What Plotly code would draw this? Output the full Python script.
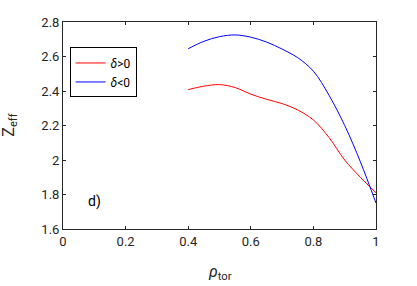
import plotly.graph_objects as go

rho = [0.40, 0.45, 0.50, 0.55, 0.60, 0.65, 0.70, 0.75, 0.80, 0.85, 0.90, 0.95, 1.00]
zeff_pos = [2.408, 2.428, 2.437, 2.420, 2.382, 2.352, 2.327, 2.290, 2.232, 2.130, 2.000, 1.900, 1.810]
zeff_neg = [2.645, 2.688, 2.715, 2.725, 2.712, 2.684, 2.643, 2.593, 2.515, 2.375, 2.200, 1.990, 1.750]
x_ticks = [0, 0.2, 0.4, 0.6, 0.8, 1]
x_ticklabels = ["0", "0.2", "0.4", "0.6", "0.8", "1"]
y_ticks = [1.6, 1.8, 2.0, 2.2, 2.4, 2.6, 2.8]
y_ticklabels = ["1.6", "1.8", "2", "2.2", "2.4", "2.6", "2.8"]

FONT = "Roboto"
AX = "#262626"

fig = go.Figure()
fig.add_trace(go.Scatter(x=rho, y=zeff_pos, mode="lines", name="<i>δ</i>>0",
                         line=dict(color="#ff0000", width=1, shape="spline", smoothing=1.0)))
fig.add_trace(go.Scatter(x=rho, y=zeff_neg, mode="lines", name="<i>δ</i><0",
                         line=dict(color="#0000ff", width=1, shape="spline", smoothing=1.0)))

axis_common = dict(showgrid=False, zeroline=False, showline=True, linecolor=AX, linewidth=1,
                   mirror="ticks", ticks="inside", ticklen=3, tickcolor=AX, tickwidth=1,
                   tickfont=dict(family=FONT, size=13, color=AX))

fig.update_xaxes(range=[0, 1], tickvals=x_ticks, ticktext=x_ticklabels, **axis_common)
fig.update_yaxes(range=[1.6, 2.8], tickvals=y_ticks, ticktext=y_ticklabels, **axis_common)

fig.add_annotation(x=0.1, y=1.757, xref="x", yref="y", text="d)", showarrow=False,
                   font=dict(family=FONT, size=14, color="#000000"))
fig.add_annotation(x=0.5, y=-0.152, xref="paper", yref="paper", text="<i>ρ</i><sub>tor</sub>",
                   showarrow=False, yanchor="top", font=dict(family=FONT, size=16, color=AX))
fig.add_annotation(x=-0.172, y=0.5, xref="paper", yref="paper", text="Z<sub>eff</sub>",
                   showarrow=False, textangle=-90, xanchor="center",
                   font=dict(family=FONT, size=16, color=AX))

fig.update_layout(
    width=417, height=286,
    margin=dict(l=62.5, r=41, t=21.5, b=57),
    paper_bgcolor="white", plot_bgcolor="white",
    showlegend=True,
    legend=dict(x=0.021, y=0.877, xanchor="left", yanchor="top",
                bordercolor="#000000", borderwidth=1, bgcolor="white",
                font=dict(family=FONT, size=12, color="#000000"),
                tracegroupgap=0, itemwidth=30),
)

fig.write_html("out.html", config={"displayModeBar": False},
               post_script="document.body.style.margin='0';document.body.style.padding='0';")
